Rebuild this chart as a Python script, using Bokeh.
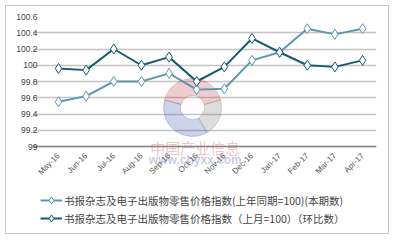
import math
from bokeh.plotting import figure
from bokeh.models import (FixedTicker, Range1d, Legend, LegendItem, InlineStyleSheet, Label, Grid)
from bokeh.embed import file_html
from bokeh.resources import INLINE

months = ["May-16", "Jun-16", "Jul-16", "Aug-16", "Sep-16", "Oct-16", "Nov-16",
          "Dec-16", "Jan-17", "Feb-17", "Mar-17", "Apr-17"]
yoy = [99.55, 99.62, 99.8, 99.8, 99.9, 99.7, 99.71, 100.06, 100.16, 100.45, 100.38, 100.45]
mom = [99.96, 99.94, 100.2, 100.0, 100.1, 99.8, 99.98, 100.33, 100.16, 100.0, 99.98, 100.06]
y_ticks = [99, 99.2, 99.4, 99.6, 99.8, 100, 100.2, 100.4, 100.6]
y_tick_labels = ["99", "99.2", "99.4", "99.6", "99.8", "100", "100.2", "100.4", "100.6"]
name_yoy = "书报杂志及电子出版物零售价格指数(上年同期=100)(本期数)"
name_mom = "书报杂志及电子出版物零售价格指数（上月=100）（环比数）"
wm_cn = "中国产业信息"
wm_url = "www.chyxx.com"

c_light = "#5a98ad"
c_dark = "#165b6f"

xs = list(range(len(months)))

# frame: x pixels 32..376 (category 0 at px 58, 27.64 px per step), y pixels 16..230 (99 -> 146)
px_x = 27.64
x_lo = (32 - 58) / px_x
x_hi = (376 - 58) / px_x
y_lo = 100.6 - (230 - 16) / 81.25
p = figure(width=394, height=240, output_backend="svg", toolbar_location=None,
           x_range=Range1d(x_lo, x_hi), y_range=Range1d(y_lo, 100.6),
           min_border_left=32, min_border_right=18, min_border_top=16, min_border_bottom=10)
p.outline_line_color = None
p.background_fill_color = "white"
p.border_fill_color = "white"
p.stylesheets = [InlineStyleSheet(css=":host::after { content: ''; position: absolute; left: 5px; top: 5px; "
                                      "width: 382px; height: 227px; border: 1.5px solid #c8c8c8; "
                                      "pointer-events: none; }")]

# watermark logo
cx, cy = 4.85, 99.48
wedges = [(15, 165, "#c0393b"), (165, 300, "#3a4fa8"), (300, 375, "#777777")]
for a0, a1, col in wedges:
    p.annular_wedge(x=cx, y=cy, inner_radius=12, outer_radius=29,
                    inner_radius_units="screen", outer_radius_units="screen",
                    start_angle=math.radians(a0), end_angle=math.radians(a1),
                    color=col, alpha=0.25)
p.add_layout(Label(x=cx + 0.1, y=98.99, text=wm_cn, text_align="center", text_baseline="middle",
                   text_font="Noto Sans CJK SC", text_font_size="15px", text_color="#c0393b",
                   text_alpha=0.3))
p.add_layout(Label(x=cx + 0.1, y=98.83, text=wm_url, text_align="center", text_baseline="middle",
                   text_font="Liberation Sans", text_font_size="12px", text_font_style="bold",
                   text_color="#3a4fa8", text_alpha=0.3))

r1l = p.line(xs, yoy, line_color=c_light, line_width=2)
r1m = p.scatter(xs, yoy, marker="diamond", size=10, fill_color="white", line_color=c_light, line_width=1)
r2l = p.line(xs, mom, line_color=c_dark, line_width=2)
r2m = p.scatter(xs, mom, marker="diamond", size=10, fill_color="white", line_color=c_dark, line_width=1)

# x axis: labels hung just under the 99 baseline
p.xaxis.fixed_location = 100.6 - (173 - 16) / 81.25
p.xaxis.ticker = FixedTicker(ticks=xs)
p.xaxis.major_label_overrides = {i: m for i, m in enumerate(months)}
p.xaxis.major_label_orientation = math.pi / 4
p.xaxis.major_label_text_font = "Liberation Sans"
p.xaxis.major_label_text_font_size = "8px"
p.xaxis.major_label_text_color = "#555555"
p.xaxis.axis_line_color = None
p.xaxis.major_tick_line_color = None
p.xaxis.minor_tick_line_color = None
p.xaxis.major_tick_out = 0
p.xaxis.major_tick_in = 0
p.xaxis.minor_tick_out = 0
p.xaxis.major_label_standoff = -19

p.yaxis.ticker = FixedTicker(ticks=y_ticks)
p.yaxis.major_label_overrides = {t: l for t, l in zip(y_ticks, y_tick_labels)}
p.yaxis.major_label_text_font = "Liberation Sans"
p.yaxis.major_label_text_font_size = "8.5px"
p.yaxis.major_label_text_color = "#444444"
p.yaxis.axis_line_color = None
p.yaxis.major_tick_line_color = None
p.yaxis.minor_tick_line_color = None
p.yaxis.major_tick_out = 0
p.yaxis.major_tick_in = 0
p.yaxis.minor_tick_out = 0
p.yaxis.major_label_standoff = -5

p.xgrid.grid_line_color = None
p.ygrid.grid_line_color = "#c4c4c4"
p.ygrid.grid_line_width = 1.5
p.ygrid.bounds = (-0.5, len(months) - 0.5)

# darker baseline at 99
p.add_layout(Grid(dimension=1, ticker=FixedTicker(ticks=[y_ticks[0]]), bounds=(-0.5, len(months) - 0.5),
                  grid_line_color="#8a8a8a", grid_line_width=1.5))

legend = Legend(items=[LegendItem(label=name_yoy, renderers=[r1l, r1m]),
                       LegendItem(label=name_mom, renderers=[r2l, r2m])],
                location=(8, 3), orientation="vertical",
                padding=0, margin=0, spacing=0, glyph_width=22, glyph_height=18,
                label_height=18, label_standoff=2, border_line_color=None,
                background_fill_alpha=0,
                label_text_font="Noto Sans CJK SC", label_text_font_size="10.5px",
                label_text_color="#444444")
p.add_layout(legend, "center")

open("out.html", "w").write(file_html(p, INLINE))
